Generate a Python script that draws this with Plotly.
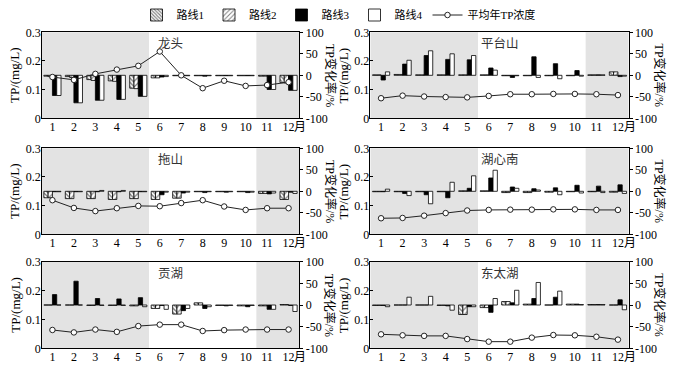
import plotly.graph_objects as go

# ---------------- data ----------------
MONTHS = list(range(1, 13))
MONTH_TICKS = [str(m) for m in MONTHS]
TP_TICKS = [0, 0.1, 0.2, 0.3]
RATE_TICKS = [-100, -50, 0, 50, 100]
RATE_TICK_TEXT = ['-100', '-50', '0', '50', '100']
STATIONS = ['龙头', '平台山', '拖山', '湖心南', '贡湖', '东太湖']
ROUTES = ['路线1', '路线2', '路线3', '路线4']
LINE_NAME = '平均年TP浓度'
SHADE_SPANS = [(0.5, 5.5), (10.5, 12.5)]

# 龙头
longtou_r1 = [-2, -3, -10, -13, -30, -6, -1, -1, -1, -1, -2, -17]
longtou_r2 = [-3, -5, -12, -14, -31, -6, -1, -1, -1, -1, -2, -18]
longtou_r3 = [-47, -64, -58, -56, -49, -4, -1, -2, -1, -1, -33, -35]
longtou_r4 = [-47, -64, -58, -56, -49, -3, -1, -1, -1, -1, -33, -35]
longtou_tp = [0.144, 0.134, 0.155, 0.170, 0.183, 0.233, 0.150, 0.105, 0.131, 0.113, 0.116, 0.126]
# 平台山
pingtai_r1 = [1, 2, 1, 1, 1, 1, -1, -1, -1, -1, 1, 8]
pingtai_r2 = [1, 2, 1, 1, 1, 1, -1, -1, -1, -1, 1, 8]
pingtai_r3 = [-11, 26, 46, 37, 36, 17, -5, 43, 27, 11, 1, -3]
pingtai_r4 = [8, 35, 57, 50, 46, 12, -1, -5, -8, -2, 1, -2]
pingtai_tp = [0.070, 0.079, 0.076, 0.074, 0.073, 0.078, 0.084, 0.084, 0.085, 0.085, 0.084, 0.081]
# 拖山
tuoshan_r1 = [-15, -17, -17, -19, -17, -19, -16, -1, -1, -1, -5, -19]
tuoshan_r2 = [-15, -17, -17, -19, -17, -19, -16, -1, -1, -1, -5, -19]
tuoshan_r3 = [-1, -1, -1, -1, -1, -8, -4, -3, -2, -3, -6, -2]
tuoshan_r4 = [-1, -1, 2, 2, -1, -2, -2, -1, -1, -2, -4, -5]
tuoshan_tp = [0.119, 0.092, 0.081, 0.091, 0.099, 0.098, 0.109, 0.119, 0.097, 0.085, 0.091, 0.091]
# 湖心南
huxin_r1 = [-1, -1, -1, -1, 1, 1, -3, -3, -2, -1, -1, -2]
huxin_r2 = [-1, -1, -1, -1, 1, 1, -3, -3, -2, -1, -1, -2]
huxin_r3 = [-1, -5, -8, -15, 7, 31, 10, 6, 8, 14, 12, 15]
huxin_r4 = [5, -10, -29, 21, 36, 49, 7, 3, -8, -4, -3, -5]
huxin_tp = [0.056, 0.057, 0.065, 0.074, 0.083, 0.085, 0.086, 0.086, 0.087, 0.087, 0.085, 0.085]
# 贡湖
gonghu_r1 = [0, 0, -1, -1, -2, -8, -21, 5, -1, -2, -2, 1]
gonghu_r2 = [0, 0, -1, -1, -2, -8, -21, 5, -1, -2, -2, 1]
gonghu_r3 = [24, 55, 15, 14, 17, -1, -13, -8, -2, -4, -10, -1]
gonghu_r4 = [0, 0, -1, -1, -4, -10, -8, -4, -1, -1, -10, -15]
gonghu_tp = [0.0635, 0.055, 0.065, 0.057, 0.077, 0.082, 0.082, 0.060, 0.063, 0.065, 0.065, 0.065]
# 东太湖
dongtai_r1 = [-1, 0, 0, -1, -22, -6, 8, 2, 0, 2, 1, 0]
dongtai_r2 = [-1, 0, 0, -1, -22, -6, 8, 2, 0, 2, 1, 0]
dongtai_r3 = [-1, 0, 0, -2, -4, -17, 5, 15, 18, 2, 1, 12]
dongtai_r4 = [-4, 18, 20, -12, -4, 15, 34, 52, 32, 1, 1, -11]
dongtai_tp = [0.0485, 0.045, 0.043, 0.043, 0.032, 0.023, 0.023, 0.037, 0.046, 0.045, 0.040, 0.030]

ROUTE_VALUES = [
    [longtou_r1, longtou_r2, longtou_r3, longtou_r4],
    [pingtai_r1, pingtai_r2, pingtai_r3, pingtai_r4],
    [tuoshan_r1, tuoshan_r2, tuoshan_r3, tuoshan_r4],
    [huxin_r1, huxin_r2, huxin_r3, huxin_r4],
    [gonghu_r1, gonghu_r2, gonghu_r3, gonghu_r4],
    [dongtai_r1, dongtai_r2, dongtai_r3, dongtai_r4],
]
TP_VALUES = [longtou_tp, pingtai_tp, tuoshan_tp, huxin_tp, gonghu_tp, dongtai_tp]

# ---------------- styling ----------------
W, H = 677, 374
SERIF = 'Liberation Serif, Noto Sans CJK SC, serif'
CJK = 'Noto Sans CJK SC, sans-serif'
SHADE = '#e3e3e3'

COL_PX = [(41.7, 299.3), (370.3, 628.7)]
ROW_PX = [(32.3, 118.3), (148.3, 234.3), (261.7, 348.3)]

ROUTE_MARKERS = [
    dict(color='white', line=dict(color='black', width=0.8),
         pattern=dict(shape='\\', fgcolor='black', bgcolor='white', size=3, solidity=0.45)),
    dict(color='white', line=dict(color='black', width=0.8),
         pattern=dict(shape='/', fgcolor='black', bgcolor='white', size=4, solidity=0.3)),
    dict(color='black', line=dict(color='black', width=0.8)),
    dict(color='white', line=dict(color='black', width=0.8)),
]

fig = go.Figure()
layout = dict(
    width=W, height=H,
    margin=dict(l=0, r=0, t=0, b=0, autoexpand=False),
    paper_bgcolor='white', plot_bgcolor='white',
    barmode='group', bargap=0.2, bargroupgap=0,
    showlegend=True,
    legend=dict(orientation='h', x=0.5, xanchor='center', xref='container',
                y=1 - 15 / H, yanchor='middle', yref='container',
                font=dict(family=SERIF, size=11, color='black'),
                itemwidth=30, tracegroupgap=0, bgcolor='rgba(0,0,0,0)'),
    font=dict(family=SERIF, size=12, color='black'),
)
shapes = []
annotations = []

for k in range(1, 7):
    row, col = (k - 1) // 2, (k - 1) % 2
    x0p, x1p = COL_PX[col]
    y0p, y1p = ROW_PX[row]
    xdom = [x0p / W, x1p / W]
    ydom = [1 - y1p / H, 1 - y0p / H]
    xa = f'x{k}' if k > 1 else 'x'
    yb_id = 2 * k - 1
    yl_id = 2 * k
    yb = f'y{yb_id}' if yb_id > 1 else 'y'
    yl = f'y{yl_id}'
    zx_id = 6 + k

    for r in range(4):
        fig.add_trace(go.Bar(
            x=MONTHS, y=ROUTE_VALUES[k - 1][r], name=ROUTES[r],
            marker=ROUTE_MARKERS[r], xaxis=xa, yaxis=yb,
            legendgroup=ROUTES[r], showlegend=(k == 1),
        ))
    fig.add_trace(go.Scatter(
        x=MONTHS, y=TP_VALUES[k - 1], name=LINE_NAME, mode='lines+markers',
        line=dict(color='#222222', width=1),
        marker=dict(symbol='circle', size=5.5, color='white', line=dict(color='#222222', width=1)),
        xaxis=xa, yaxis=yl, legendgroup='line', showlegend=(k == 1),
    ))

    layout[f'xaxis{k if k > 1 else ""}'] = dict(
        domain=xdom, anchor=yb, range=[0.5, 12.5], automargin=False,
        tickvals=MONTHS, ticktext=MONTH_TICKS, ticks='', ticklabelstandoff=-3,
        showline=True, mirror=True, linecolor='black', linewidth=1,
        showgrid=False, zeroline=False,
        tickfont=dict(family=SERIF, size=12, color='black'),
    )
    # zero-crossing axis with category-boundary ticks
    layout[f'xaxis{zx_id}'] = dict(
        domain=xdom, overlaying=xa, anchor='free', position=(ydom[0] + ydom[1]) / 2,
        range=[0.5, 12.5], tickvals=[m + 0.5 for m in MONTHS[:-1]], automargin=False,
        ticks='inside', ticklen=4, tickwidth=1, tickcolor='black',
        showticklabels=False, showline=True, linecolor='black', linewidth=1,
        showgrid=False, zeroline=False,
    )
    layout[f'yaxis{yb_id if yb_id > 1 else ""}'] = dict(
        domain=ydom, anchor=xa, side='right', range=[-100, 100], automargin=False,
        tickvals=RATE_TICKS, ticktext=RATE_TICK_TEXT, ticks='outside', ticklen=3,
        tickcolor='black', ticklabelstandoff=0,
        showline=True, mirror=True, linecolor='black', linewidth=1,
        showgrid=False, zeroline=False,
        tickfont=dict(family=SERIF, size=12, color='black'),
    )
    layout[f'yaxis{yl_id}'] = dict(
        domain=ydom, anchor=xa, overlaying=yb, side='left', range=[0, 0.3], automargin=False,
        tickvals=TP_TICKS, ticks='inside', ticklen=3, tickcolor='black',
        showline=False, showgrid=False, zeroline=False,
        tickfont=dict(family=SERIF, size=12, color='black'),
    )

    for (s0, s1) in SHADE_SPANS:
        shapes.append(dict(type='rect', xref=xa, yref=f'{yb} domain',
                           x0=s0, x1=s1, y0=0, y1=1, fillcolor=SHADE,
                           line=dict(width=0), layer='below'))

    ymid = (ydom[0] + ydom[1]) / 2
    annotations.append(dict(text=STATIONS[k - 1], xref='paper', yref='paper',
                            x=(xdom[0] + xdom[1]) / 2, y=1 - (y0p + 10.5) / H,
                            showarrow=False, font=dict(family=CJK, size=12.5, color='#333333'),
                            xanchor='center', yanchor='middle'))
    annotations.append(dict(text='TP/(mg/L)', xref='paper', yref='paper',
                            x=(x0p - 27) / W, y=ymid, textangle=-90, showarrow=False,
                            font=dict(family=SERIF, size=13, color='black'),
                            xanchor='center', yanchor='middle'))
    annotations.append(dict(text='TP变化率/%', xref='paper', yref='paper',
                            x=(x1p + 31) / W, y=ymid, textangle=90, showarrow=False,
                            font=dict(family=SERIF, size=12, color='black'),
                            xanchor='center', yanchor='middle'))
    annotations.append(dict(text='月', xref='paper', yref='paper',
                            x=(x1p + 1) / W, y=1 - (y1p + 8.5) / H, showarrow=False,
                            font=dict(family=SERIF, size=12, color='black'),
                            xanchor='center', yanchor='middle'))

layout['shapes'] = shapes
layout['annotations'] = annotations
fig.update_layout(**layout)
fig.write_html('out.html', config={'displayModeBar': False},
               post_script="document.body.style.margin='0';document.body.style.overflow='hidden';")
